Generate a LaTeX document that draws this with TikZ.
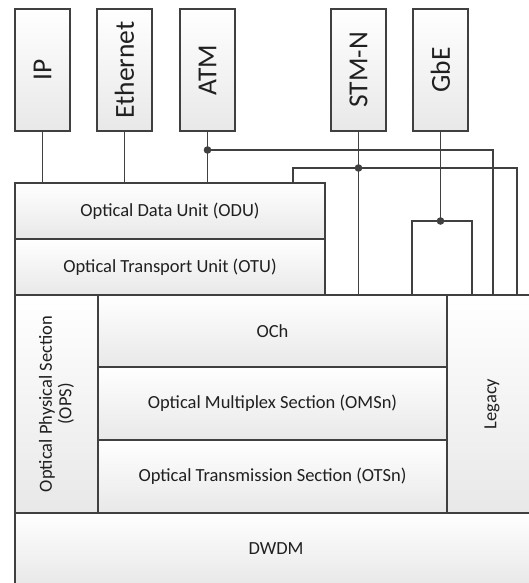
\documentclass[tikz,border=0pt]{standalone}
\usepackage{fontspec}
\setmainfont{Carlito}
\definecolor{linegray}{HTML}{404040}
\definecolor{boxgray}{HTML}{E8E8E8}
\definecolor{textgray}{HTML}{202020}
\newcommand{\vtext}[1]{\rotatebox{90}{#1}}
\tikzset{
    box/.style={draw=linegray, line width=1.8pt, rectangle, inner sep=0pt,
        top color=white, bottom color=boxgray, text=textgray, align=center},
    client/.style={box, minimum width=55pt, minimum height=122pt,
        font=\fontsize{27.5}{32}\selectfont},
    layer/.style={box, font=\fontsize{18.5}{22}\selectfont},
    wire/.style={draw=linegray, line width=1.8pt},
    tap/.style={fill=linegray}
}
\begin{document}
\begin{tikzpicture}[x=1pt, y=-1pt]
    \clip (0,0) rectangle (529,583);
    % client signals
    \node[client] (ip)  at (42.5,70)  {\vtext{IP}};
    \node[client] (eth) at (124.5,70) {\vtext{Ethernet}};
    \node[client] (atm) at (207.5,70) {\vtext{ATM}};
    \node[client] (stm) at (358.5,70) {\vtext{STM-N}};
    \node[client] (gbe) at (440.5,70) {\vtext{GbE}};
    % digital layers
    \node[layer, minimum width=310pt, minimum height=56pt] (odu) at (170,211) {Optical Data Unit (ODU)};
    \node[layer, minimum width=310pt, minimum height=56pt] (otu) at (170,267) {Optical Transport Unit (OTU)};
    % optical layers
    \node[layer, minimum width=83pt, minimum height=218pt] (ops) at (56.5,404)
        {\vtext{\shortstack{Optical Physical Section\\(OPS)}}};
    \node[layer, minimum width=349pt, minimum height=72pt] (och) at (272.5,331) {OCh};
    \node[layer, minimum width=349pt, minimum height=73pt] (oms) at (272.5,403.5) {Optical Multiplex Section (OMSn)};
    \node[layer, minimum width=349pt, minimum height=73pt] (ots) at (272.5,476.5) {Optical Transmission Section (OTSn)};
    \node[layer, minimum width=90pt, minimum height=218pt] (legacy) at (492,404) {\vtext{Legacy}};
    \node[layer, minimum width=522pt, minimum height=72pt] (dwdm) at (276,549) {DWDM};
    % taps
    \coordinate (atmtap) at (207.5,150);
    \coordinate (stmtap) at (358.5,168);
    \coordinate (gbetap) at (440.5,221);
    \coordinate (oduup) at (293,183);
    % connectors
    \draw[wire] (ip.south) -- (ip |- odu.north);
    \draw[wire] (eth.south) -- (eth |- odu.north);
    \draw[wire] (atm.south) -- (atm |- odu.north);
    \draw[wire] (atmtap) -| (493,0 |- legacy.north);
    \draw[wire] (stm.south) -- (stm |- och.north);
    \draw[wire] (oduup) |- (stmtap) -| (517,0 |- legacy.north);
    \draw[wire] (gbe.south) -- (gbetap);
    \draw[wire] (412,0 |- och.north) |- (gbetap) -| (472,0 |- legacy.north);
    \fill[tap] (atmtap) circle (3.8pt);
    \fill[tap] (stmtap) circle (3.8pt);
    \fill[tap] (gbetap) circle (3.8pt);
\end{tikzpicture}
\end{document}
